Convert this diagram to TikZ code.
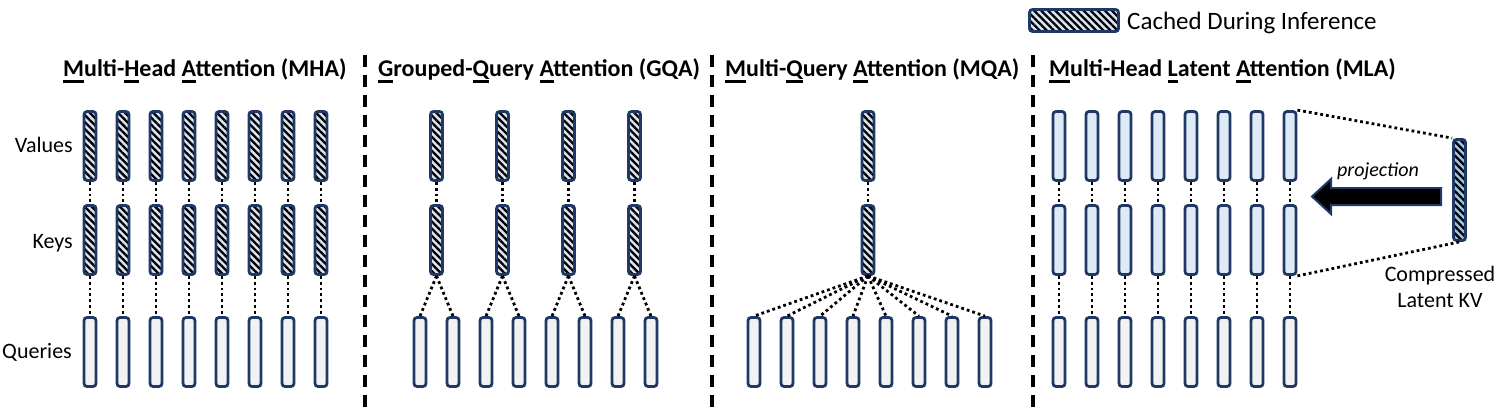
\documentclass[tikz,border=0pt]{standalone}
\usepackage{fontspec}
\setmainfont{Carlito}
\usepackage{tikz}
\usetikzlibrary{patterns.meta, positioning}
\definecolor{navyline}{HTML}{1F3864}
\definecolor{cacheblue}{HTML}{DAE3F3}
\definecolor{latentblue}{HTML}{DEEBF7}
\definecolor{querygray}{HTML}{F2F2F2}
\definecolor{compressblue}{HTML}{9DC3E6}
\newcommand{\keyletter}[1]{\setbox0\hbox{#1}\rlap{\rule[-5.5pt]{\wd0}{2.2pt}}#1}

\tikzset{
  head/.style={draw=navyline, line width=2.8pt, rounded corners=3pt,
    minimum width=12pt, minimum height=69pt, inner sep=0pt},
  query/.style={head, fill=querygray},
  latent/.style={head, fill=latentblue},
  cached/.style={head, preaction={fill=cacheblue},
    pattern={Lines[angle=-45, distance=5pt, line width=2.3pt]}, pattern color=black},
  link/.style={line width=2.8pt, dash pattern=on 2.8pt off 3pt},
  divider/.style={line width=3.5pt, dash pattern=on 12pt off 8pt},
  title/.style={anchor=base west, inner sep=0pt,
    font=\fontsize{24}{28}\selectfont\bfseries},
  rowlabel/.style={anchor=base east, inner sep=0pt,
    font=\fontsize{22}{26}\selectfont},
}

\begin{document}
\begin{tikzpicture}[x=1pt, y=-1pt]
    \useasboundingbox (0,0) rectangle (1504,412);

    % Legend
    \node[cached, minimum width=89pt, minimum height=22pt] (legendbox) at (1074,20.5) {};
    \node[anchor=base west, inner sep=0pt, font=\fontsize{25}{28}\selectfont]
        (legendtext) at (1127,30) {Cached During Inference};

    % Section titles
    \node[title] (mhatitle) at (63,77) {\keyletter{M}ulti-\keyletter{H}ead \keyletter{A}ttention (MHA)};
    \node[title] (gqatitle) at (378,77) {\keyletter{G}rouped-\keyletter{Q}uery \keyletter{A}ttention (GQA)};
    \node[title] (mqatitle) at (725,77) {\keyletter{M}ulti-\keyletter{Q}uery \keyletter{A}ttention (MQA)};
    \node[title] (mlatitle) at (1049,77) {\keyletter{M}ulti-Head \keyletter{L}atent \keyletter{A}ttention (MLA)};

    % Dividers
    \foreach \dx in {365, 712, 1033}
        \draw[divider] (\dx,55) -- (\dx,412);

    % Row labels
    \node[rowlabel] (valueslabel) at (73,152) {Values};
    \node[rowlabel] (keyslabel) at (73,248) {Keys};
    \node[rowlabel] (querieslabel) at (72,358) {Queries};

    % MHA: one key/value head per query head
    \foreach \i in {1,...,8} {
        \pgfmathsetmacro\hx{57+33*\i}
        \node[cached] (mhav\i) at (\hx,146) {};
        \node[cached] (mhak\i) at (\hx,240) {};
        \node[query] (mhaq\i) at (\hx,352) {};
        \draw[link] (mhav\i) -- (mhak\i);
        \draw[link] (mhak\i) -- (mhaq\i);
    }

    % GQA: one key/value head per two query heads
    \foreach \i in {1,...,8} {
        \pgfmathsetmacro\hx{387+33*\i}
        \node[query] (gqaq\i) at (\hx,352) {};
    }
    \foreach \j [evaluate=\j as \qa using int(2*\j-1), evaluate=\j as \qb using int(2*\j)] in {1,...,4} {
        \pgfmathsetmacro\hx{370.5+66*\j}
        \node[cached] (gqav\j) at (\hx,146) {};
        \node[cached] (gqak\j) at (\hx,240) {};
        \draw[link] (gqav\j) -- (gqak\j);
        \draw[link] (gqak\j.south) -- (gqaq\qa.north);
        \draw[link] (gqak\j.south) -- (gqaq\qb.north);
    }

    % MQA: a single key/value head
    \node[cached] (mqav) at (868,146) {};
    \node[cached] (mqak) at (868,240) {};
    \draw[link] (mqav) -- (mqak);
    \foreach \i in {1,...,8} {
        \pgfmathsetmacro\hx{721+33*\i}
        \node[query] (mqaq\i) at (\hx,352) {};
        \draw[link] (mqak.south) -- (mqaq\i.north);
    }

    % MLA: keys and values rebuilt from the latent
    \foreach \i in {1,...,8} {
        \pgfmathsetmacro\hx{1026+33*\i}
        \node[latent] (mlav\i) at (\hx,146) {};
        \node[latent] (mlak\i) at (\hx,240) {};
        \node[query] (mlaq\i) at (\hx,352) {};
        \draw[link] (mlav\i) -- (mlak\i);
        \draw[link] (mlak\i) -- (mlaq\i);
    }

    % Compressed latent KV
    \node[cached, preaction={fill=compressblue}, minimum height=101pt] (latentkv) at (1459.5,190) {};
    \draw[link] (mlav8.north east) -- (latentkv.north west);
    \draw[link] (mlak8.south east) -- (latentkv.south);
    \node[align=center, inner sep=0pt, font=\fontsize{22}{26}\selectfont]
        (latentlabel) at (1440,287) {Compressed\\Latent KV};

    % Projection arrow
    \filldraw[draw=navyline, fill=black, line width=2pt, line join=miter]
        (1441,188) -- (1331,188) -- (1331,179) -- (1312,196.5)
        -- (1331,214) -- (1331,205) -- (1441,205) -- cycle;
    \node[inner sep=0pt, font=\fontsize{20}{24}\selectfont\itshape]
        (projlabel) at (1378,171) {projection};
\end{tikzpicture}
\end{document}
